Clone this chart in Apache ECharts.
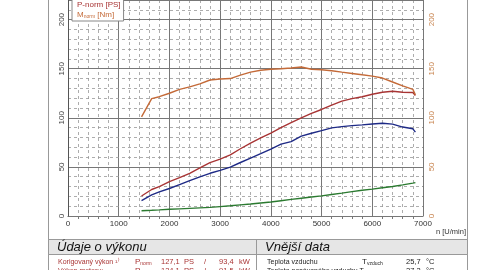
<!DOCTYPE html>
<html><head><meta charset="utf-8">
<script src="https://cdn.jsdelivr.net/npm/echarts@6/dist/echarts.min.js"></script>
<style>html,body{margin:0;padding:0;background:#fff}#c{width:480px;height:270px}</style>
</head><body><div id="c"></div>
<script>
var rpm      = [1450,1650,1800,2000,2200,2400,2600,2800,3000,3200,3400,3600,3800,4000,4200,4400,4600,4800,5000,5200,5400,5600,5800,6000,6200,6400,6600,6800,6850];
var torqueNm = [101,119.5,121.5,125,129,131.5,134.5,138.5,139.5,140,143.5,146.5,148.5,149.5,150,150.8,151.7,149.5,149,148,146.5,145.2,143.8,142.5,140.5,136.5,132.5,129,123.5];
var powerNorm= [20.4,27,30,35,39,43.5,49,54.4,58,62.3,68.5,74.3,79.5,84.5,90,95,100,104.5,108.5,113,117,119.5,121.5,124,126,127,126,125.8,122.8];
var powerWheel=[15.6,21.5,24.5,28,32,36,39.8,43.5,46.5,49.8,54.5,59,63.5,68.2,73.2,75.8,81.4,84.3,87,89.8,91,92,92.8,93.7,94.5,93.6,90.6,88.8,85.4];
var powerLoss= [5.4,5.8,6.2,6.8,7.3,7.8,8.3,8.8,9.6,10.4,11.3,12.2,13.3,14.3,15.6,16.9,18.1,19.3,20.5,21.9,23.3,24.8,26.2,27.4,28.8,30.1,31.7,33.5,34];

function pairs(v){ return rpm.map(function(r,i){return [r,v[i]];}); }
var F = '"Liberation Sans", Arial, sans-serif';
var RED='#a83434', ORANGE='#c46a38', BLUE='#1e2a86', GREEN='#2b7a30';
var chart = echarts.init(document.getElementById('c'));
function txt(x,y,t,size,color,extra){
  var s={text:t,x:x,y:y,fontSize:size,fill:color,fontFamily:F,verticalAlign:'middle'};
  if(extra){for(var k in extra)s[k]=extra[k];}
  return {type:'text',z:10,style:s};
}
chart.setOption({
  animation:false,
  grid:{left:68,right:57,top:0,bottom:54},
  legend:{
    orient:'vertical',left:72,top:-1,padding:[1,3,1,0],itemGap:0,itemWidth:0,itemHeight:0,icon:'rect',
    backgroundColor:'#fff',borderColor:'#888',borderWidth:1,selectedMode:false,
    data:[{name:'P-norm [PS]',textStyle:{color:RED}},{name:'M_norm [Nm]',textStyle:{color:ORANGE}}],
    formatter:function(n){return n==='M_norm [Nm]'?'{o|M}{s|norm}{o| [Nm]}':'{r|'+n+'}';},
    textStyle:{fontSize:8,fontFamily:F,lineHeight:10,
      rich:{r:{color:RED,fontSize:8,fontFamily:F},o:{color:ORANGE,fontSize:8,fontFamily:F},s:{color:ORANGE,fontSize:5,fontFamily:F,padding:[3,0,0,0]}}}
  },
  xAxis:{type:'value',min:0,max:7000,interval:1000,
    axisLine:{lineStyle:{color:'#555'}},axisTick:{show:false},
    axisLabel:{fontSize:8,color:'#333',fontFamily:F,margin:4,formatter:function(v){return String(v);}},
    splitLine:{lineStyle:{color:'#777',width:1}},
    minorTick:{show:true,splitNumber:5,length:3,lineStyle:{color:'#777'}},
    minorSplitLine:{show:true,lineStyle:{color:'#999',type:[3,3],width:0.8}}
  },
  yAxis:[
    {type:'value',min:0,max:220,interval:50,z:3,
      axisLine:{show:true,lineStyle:{color:'#555'}},axisTick:{show:false},
      axisLabel:{fontSize:8,color:'#444',fontFamily:F,rotate:90,margin:2,showMaxLabel:false},
      splitLine:{lineStyle:{color:'#777',width:1}}
    },
    {type:'value',min:0,max:220,interval:50,position:'right',
      axisLine:{show:false},axisTick:{show:false},splitLine:{show:false},
      axisLabel:{fontSize:8,color:'#c8844f',fontFamily:F,rotate:90,margin:5,showMaxLabel:false}
    },
    {type:'value',min:0,max:220,interval:10,position:'left',z:1,
      axisLine:{show:false},axisTick:{show:false},axisLabel:{show:false},
      splitLine:{show:true,lineStyle:{color:'#999',type:[3,3],width:0.8}}
    }
  ],
  series:[
    {name:'P-norm [PS]',type:'line',data:pairs(powerNorm),symbol:'none',lineStyle:{color:RED,width:1.4},itemStyle:{color:RED}},
    {name:'M_norm [Nm]',type:'line',yAxisIndex:1,data:pairs(torqueNm),symbol:'none',lineStyle:{color:ORANGE,width:1.4},itemStyle:{color:ORANGE}},
    {name:'P-rad',type:'line',data:pairs(powerWheel),symbol:'none',lineStyle:{color:BLUE,width:1.4},itemStyle:{color:BLUE}},
    {name:'P-ztrát',type:'line',data:pairs(powerLoss),symbol:'none',lineStyle:{color:GREEN,width:1.4},itemStyle:{color:GREEN}}
  ],
  graphic:[
    {type:'line',z:5,shape:{x1:48.5,y1:0,x2:48.5,y2:270},style:{stroke:'#999',lineWidth:1}},
    {type:'line',z:5,shape:{x1:467.5,y1:0,x2:467.5,y2:270},style:{stroke:'#999',lineWidth:1}},
    {type:'rect',z:5,shape:{x:48.5,y:239.5,width:419,height:15},style:{fill:'#e6e6e6',stroke:'#999',lineWidth:1}},
    {type:'line',z:5,shape:{x1:256.5,y1:239.5,x2:256.5,y2:270},style:{stroke:'#999',lineWidth:1}},
    txt(436,232,'n [U/min]',7.5,'#333'),
    txt(57,247.5,'Údaje o výkonu',13,'#111',{fontStyle:'italic'}),
    txt(265,247.5,'Vnější data',13,'#111',{fontStyle:'italic'}),
    txt(58,262,'Korigovaný výkon ¹⁾',7,RED),
    {type:'text',z:10,style:{x:135,y:262,text:'P{s|norm}',fontSize:8,fill:RED,fontFamily:F,verticalAlign:'middle',rich:{s:{fontSize:5,fill:RED,fontFamily:F,padding:[4,0,0,0]}}}},
    txt(161,262,'127,1',7.5,RED),txt(184,262,'PS',7.5,RED),txt(204,262,'/',7.5,RED),txt(219,262,'93,4',7.5,RED),txt(239,262,'kW',7.5,RED),
    txt(58,271,'Výkon motoru:',7,RED),
    txt(135,271,'P',8,RED),
    txt(161,271,'124,1',7.5,RED),txt(184,271,'PS',7.5,RED),txt(204,271,'/',7.5,RED),txt(219,271,'91,5',7.5,RED),txt(239,271,'kW',7.5,RED),
    txt(267,262,'Teplota vzduchu',7,'#222'),
    {type:'text',z:10,style:{x:362,y:262,text:'T{s|vzduch}',fontSize:8,fill:'#222',fontFamily:F,verticalAlign:'middle',rich:{s:{fontSize:5,fill:'#222',fontFamily:F,padding:[4,0,0,0]}}}},
    txt(406,262,'25,7',7.5,'#222'),txt(426,262,'°C',7.5,'#222'),
    txt(267,271,'Teplota nasávaného vzduchu T',7,'#222'),
    txt(406,271,'27,2',7.5,'#222'),txt(426,271,'°C',7.5,'#222')
  ]
});
</script></body></html>
